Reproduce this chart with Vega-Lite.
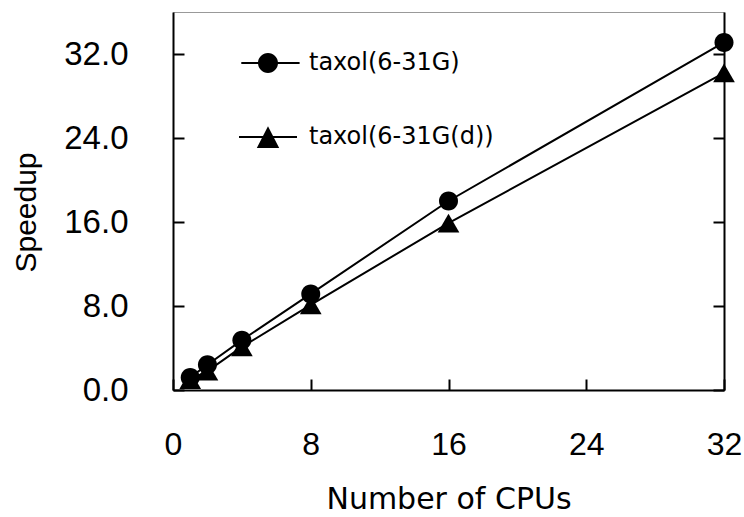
{
  "$schema": "https://vega.github.io/schema/vega-lite/v6.json",
  "autosize": {"type": "none"},
  "padding": {"left": 173, "top": 12, "right": 20, "bottom": 127},
  "width": 551,
  "height": 378,
  "background": "white",
  "config": {
    "view": {"stroke": "#999999", "strokeWidth": 1},
    "axis": {"labelColor": "black", "tickColor": "black", "domainColor": "black", "titleColor": "black", "grid": false, "domainWidth": 2, "tickWidth": 2, "tickSize": -11, "labelFlush": false}
  },
  "data": {
    "values": [
      {"cpus": 1, "speedup": 1.2, "series": "taxol(6-31G)"},
      {"cpus": 2, "speedup": 2.4, "series": "taxol(6-31G)"},
      {"cpus": 4, "speedup": 4.75, "series": "taxol(6-31G)"},
      {"cpus": 8, "speedup": 9.15, "series": "taxol(6-31G)"},
      {"cpus": 16, "speedup": 18.0, "series": "taxol(6-31G)"},
      {"cpus": 32, "speedup": 33.1, "series": "taxol(6-31G)"},
      {"cpus": 1, "speedup": 1.0, "series": "taxol(6-31G(d))"},
      {"cpus": 2, "speedup": 1.8, "series": "taxol(6-31G(d))"},
      {"cpus": 4, "speedup": 4.1, "series": "taxol(6-31G(d))"},
      {"cpus": 8, "speedup": 8.1, "series": "taxol(6-31G(d))"},
      {"cpus": 16, "speedup": 15.9, "series": "taxol(6-31G(d))"},
      {"cpus": 32, "speedup": 30.2, "series": "taxol(6-31G(d))"}
    ]
  },
  "encoding": {
    "x": {
      "field": "cpus", "type": "quantitative",
      "scale": {"domain": [0, 32], "nice": false, "zero": false},
      "axis": {
        "values": [0, 8, 16, 24, 32], "format": "d",
        "labelFont": "Liberation Sans", "labelFontSize": 32, "labelPadding": 50,
        "title": "Number of CPUs", "titleFont": "DejaVu Sans", "titleFontSize": 30, "titleFontWeight": "normal",
        "titleY": 118, "titleBaseline": "alphabetic"
      }
    }
  },
  "layer": [
    {
      "mark": {"type": "line", "color": "black", "strokeWidth": 2},
      "encoding": {
        "y": {
          "field": "speedup", "type": "quantitative",
          "scale": {"domain": [0, 36], "nice": false},
          "axis": {
            "orient": "left", "values": [0, 8, 16, 24, 32], "format": ".1f",
            "labelFont": "Liberation Sans", "labelFontSize": 33, "labelPadding": 56,
            "title": "Speedup", "titleFont": "Liberation Sans", "titleFontSize": 30, "titleFontWeight": "normal",
            "titleX": -138, "titleY": 200, "titleBaseline": "alphabetic"
          }
        },
        "detail": {"field": "series", "type": "nominal"}
      }
    },
    {
      "mark": {"type": "point", "filled": true, "color": "black", "size": 400, "opacity": 1},
      "encoding": {
        "y": {
          "field": "speedup", "type": "quantitative",
          "scale": {"domain": [0, 36], "nice": false},
          "axis": {"orient": "right", "values": [0, 8, 16, 24, 32], "labels": false, "title": null}
        },
        "shape": {
          "field": "series", "type": "nominal",
          "scale": {
            "domain": ["taxol(6-31G)", "taxol(6-31G(d))"],
            "range": ["M0.95,0A0.95,0.95,0,1,1,-0.95,0A0.95,0.95,0,1,1,0.95,0Z", "M0,-0.94L1.085,0.94L-1.085,0.94Z"]
          },
          "legend": null
        }
      }
    },
    {
      "mark": {"type": "point", "filled": true, "color": "black", "size": 400, "opacity": 0},
      "encoding": {
        "y": {
          "field": "speedup", "type": "quantitative",
          "scale": {"domain": [0, 36], "nice": false},
          "axis": null
        },
        "shape": {
          "field": "series", "type": "nominal",
          "scale": {
            "domain": ["taxol(6-31G)", "taxol(6-31G(d))"],
            "range": [
              "M-2.67,-0.1L3.16,-0.1L3.16,0.1L-2.67,0.1ZM1,0A1,1,0,1,1,-1,0A1,1,0,1,1,1,0Z",
              "M-2.9,-0.1L2.9,-0.1L2.9,0.1L-2.9,0.1ZM0,-1.08L1.12,1.1L-1.12,1.1Z"
            ]
          },
          "legend": {
            "orient": "none", "legendX": 83, "legendY": 39, "title": null, "padding": 0,
            "symbolSize": 400, "labelFont": "DejaVu Sans", "labelFontSize": 24, "labelColor": "black",
            "labelOffset": 29, "rowPadding": 50, "labelLimit": 400,
            "symbolFillColor": "black", "symbolStrokeWidth": 0, "symbolOpacity": 1
          }
        }
      }
    }
  ],
  "resolve": {"axis": {"y": "independent"}, "scale": {"shape": "independent"}}
}
